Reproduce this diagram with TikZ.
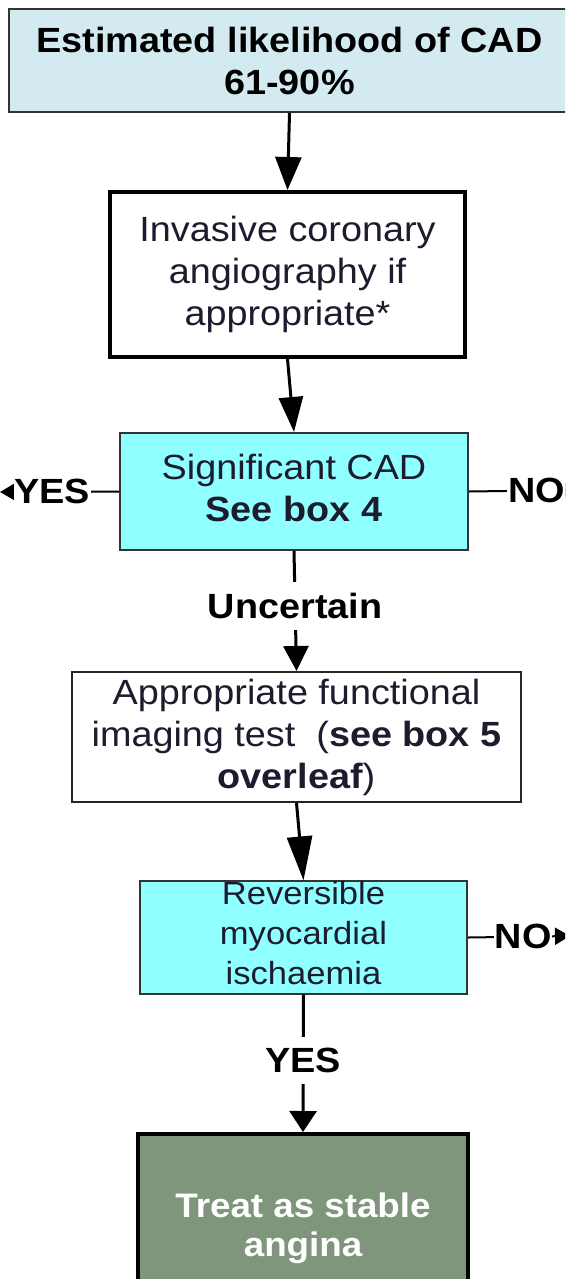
\documentclass[tikz,border=0pt]{standalone}
\usepackage{fontspec}
\setmainfont{Liberation Sans}[FakeStretch=1.08]
\usetikzlibrary{arrows.meta}
\definecolor{topfill}{HTML}{D3EBF0}
\definecolor{cyanfill}{HTML}{8FFFFF}
\definecolor{greenfill}{HTML}{7F967C}
\definecolor{txt}{HTML}{1C1C2E}
\begin{document}
\begin{tikzpicture}[x=1pt,y=-1pt,
  box/.style={draw, rectangle, inner sep=0pt, align=center, text=txt},
  fbig/.style={font=\fontsize{35}{42}\selectfont},
  conn/.style={draw=black, line width=3pt},
  side/.style={draw=black, line width=2pt, -{Triangle[length=15pt,width=17pt]}},
  lbl/.style={fill=white, inner xsep=2pt, inner ysep=11pt, text=black,
              font=\fontsize{35}{42}\selectfont\bfseries},
  slbl/.style={fill=white, inner xsep=1pt, inner ysep=2pt, text=black,
              font=\fontsize{35}{42}\selectfont\bfseries}
]
\useasboundingbox (0,0) rectangle (565,1279);
\clip (0,0) rectangle (565,1279);
\fill[white] (0,0) rectangle (565,1279);

\node[box, fbig, fill=topfill, draw=black!80, line width=2pt, text=black,
      minimum width=561pt, minimum height=103pt] (b1) at (289.5,60.5)
      {\textbf{Estimated likelihood of CAD}\\\textbf{61-90\%}};

\node[box, fbig, fill=white, draw=black, line width=4pt,
      minimum width=355pt, minimum height=165pt] (b2) at (287.5,274.5)
      {Invasive coronary\\angiography if\\appropriate*};

\node[box, fbig, fill=cyanfill, draw=black!80, line width=2pt,
      minimum width=348pt, minimum height=117pt] (b3) at (294,491.5)
      {Significant CAD\\\textbf{See box 4}\rule[-7pt]{0pt}{0pt}};

\node[box, fbig, fill=white, draw=black!85, line width=2pt,
      minimum width=449pt, minimum height=130pt] (b4) at (296.5,737)
      {Appropriate functional\\imaging test\ \ (\textbf{see box 5}\\\textbf{overleaf})};

\node[box, font=\fontsize{32}{40}\selectfont, fill=cyanfill, draw=black!80, line width=2pt,
      minimum width=327pt, minimum height=109pt] (b5) at (303.5,937.5)
      {Reversible\\myocardial\\ischaemia\rule[-9pt]{0pt}{0pt}};

\node[box, font=\fontsize{34}{39}\selectfont\bfseries, fill=greenfill, draw=black, line width=4pt,
      text=white, minimum width=330pt, minimum height=189pt] (b6) at (303,1228.5)
      {Treat as stable\\angina};

\coordinate (yl) at (0,492);
\coordinate (nr) at (578,490);
\coordinate (nr2) at (570,936);

\draw[conn, -{Triangle[length=33pt,width=26pt]}] (b1.south) -- (b2.north);
\draw[conn, -{Triangle[length=35pt,width=24pt]}] (b2.south) -- (b3.north);
\draw[conn, -{Triangle[length=25pt,width=25pt]}] (b3.south) -- node[lbl, pos=0.46] {Uncertain} (b4.north);
\draw[conn, -{Triangle[length=44pt,width=25pt]}] (b4.south) -- (b5.north);
\draw[conn, -{Triangle[length=21pt,width=27pt]}] (b5.south) -- node[lbl, pos=0.48] {YES} (b6.north);

\draw[side] (b3.west) -- node[slbl, pos=0.56] {YES} (yl);
\draw[side] (b3.east) -- node[slbl, pos=0.62] {NO} (nr);
\draw[side] (b5.east) -- node[slbl, pos=0.54] {NO} (nr2);
\end{tikzpicture}
\end{document}
